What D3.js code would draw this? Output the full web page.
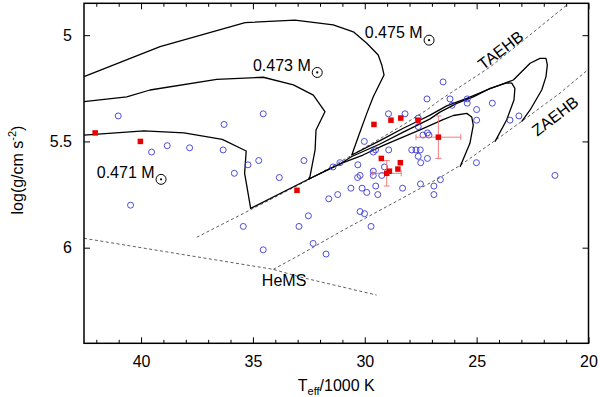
<!DOCTYPE html>
<html>
<head>
<meta charset="utf-8">
<script src="https://cdn.jsdelivr.net/npm/d3@7"></script>
<style>
  body { margin: 0; background: #fff; }
  svg { font-family: "Liberation Sans", Arial, Helvetica, sans-serif; }
</style>
</head>
<body>
<svg id="chart" width="600" height="397"></svg>
<script>
// ---- sdB sample (blue open circles) : Teff/1000 K, log g
const sdbTeff = [41.02, 36.29, 34.54, 39.53, 38.83, 37.83, 36.33, 35.22, 34.74, 35.83,
  33.82, 40.47, 35.43, 32.94, 34.54, 32.72, 30.02, 28.94, 28.20, 27.61,
  27.61, 27.40, 27.20, 27.13, 27.22, 26.50, 26.19, 26.10, 25.42, 25.42,
  25.00, 25.00, 24.30, 23.51, 23.11, 25.01, 21.50, 29.52, 29.62, 28.93,
  27.90, 27.71, 27.52, 27.61, 27.20, 27.50, 31.42, 31.11, 30.31, 29.12,
  29.62, 29.62, 29.24, 30.21, 30.32, 30.62, 30.12, 29.91, 29.51, 29.42,
  31.21, 31.61, 28.31, 27.51, 26.91, 26.91, 26.62, 32.52, 30.21, 30.01,
  29.72, 32.31, 31.73];
const sdbLogg = [5.38, 5.42, 5.37, 5.55, 5.52, 5.53, 5.54, 5.61, 5.59, 5.65,
  5.67, 5.80, 5.90, 5.90, 6.01, 5.59, 5.50, 5.37, 5.37, 5.39,
  5.43, 5.47, 5.46, 5.47, 5.30, 5.22, 5.30, 5.33, 5.30, 5.32,
  5.35, 5.40, 5.32, 5.40, 5.38, 5.60, 5.66, 5.54, 5.55, 5.54,
  5.54, 5.54, 5.54, 5.57, 5.58, 5.60, 5.62, 5.60, 5.61, 5.62,
  5.64, 5.66, 5.66, 5.66, 5.67, 5.72, 5.72, 5.74, 5.71, 5.75,
  5.75, 5.77, 5.72, 5.70, 5.71, 5.75, 5.68, 5.85, 5.83, 5.84,
  5.90, 5.98, 6.03];

// ---- highlighted stars (red squares) with error bars
const redTeff = [42.05, 40.03, 33.03, 29.59, 28.83, 28.39, 27.62, 26.71, 29.26, 28.41, 28.52, 28.90, 29.02];
const redLogg = [5.46, 5.50, 5.73, 5.42, 5.40, 5.39, 5.40, 5.48, 5.58, 5.60, 5.63, 5.64, 5.65];
const redTerr = [0, 0, 0, 0, 0, 0, 0, 1.0, 0, 0, 0, 0, 0.65];
const redGerr = [0, 0, 0, 0, 0, 0, 0, 0.10, 0, 0, 0, 0, 0.06];

// ---- evolutionary tracks [Teff, log g]
const track471 = [[42.55, 5.47], [39.87, 5.45], [38.08, 5.46], [36.37, 5.49], [35.30, 5.545],
  [35.37, 5.65], [35.10, 5.815], [32.52, 5.678], [31.11, 5.606], [30.08, 5.564],
  [29.19, 5.52], [28.43, 5.486], [27.53, 5.446], [26.50, 5.397], [26.04, 5.378],
  [25.44, 5.368], [25.22, 5.385], [25.15, 5.423], [25.30, 5.509], [25.74, 5.619]];
const track473 = [[42.55, 5.313], [40.64, 5.29], [39.60, 5.258], [36.62, 5.208], [34.54, 5.198],
  [33.19, 5.234], [32.30, 5.282], [31.78, 5.36], [32.18, 5.446], [32.22, 5.54],
  [32.45, 5.666], [32.52, 5.678], [31.11, 5.606], [30.58, 5.571], [29.32, 5.512],
  [28.28, 5.456], [27.08, 5.394], [26.64, 5.362], [25.89, 5.321], [25.15, 5.29],
  [24.40, 5.25], [23.66, 5.224], [23.43, 5.226], [23.29, 5.25], [23.33, 5.305],
  [23.66, 5.399], [24.18, 5.501]];
const track475 = [[42.55, 5.195], [39.15, 5.054], [35.35, 4.941], [33.12, 4.929], [31.41, 4.952],
  [30.51, 4.984], [29.91, 5.038], [29.40, 5.093], [29.24, 5.14], [29.14, 5.187],
  [29.62, 5.29], [29.91, 5.368], [30.29, 5.478], [30.58, 5.564], [29.32, 5.496],
  [28.28, 5.438], [27.61, 5.404], [27.08, 5.376], [26.34, 5.333], [25.44, 5.297],
  [24.55, 5.258], [23.36, 5.211], [22.61, 5.132], [22.17, 5.109], [21.90, 5.109],
  [21.84, 5.14], [21.90, 5.195], [22.09, 5.258], [22.61, 5.352], [22.99, 5.407]];

// ---- reference lines (dashed)
const taehb = [[37.51, 5.951], [35.13, 5.823], [32.54, 5.682], [30.57, 5.564], [28.43, 5.432],
  [27.23, 5.352], [26.64, 5.305], [24.40, 5.15], [23.06, 5.037], [20.97, 4.858]];
const zaehb = [[34.09, 6.102], [32.90, 6.034], [31.11, 5.926], [28.43, 5.773], [26.64, 5.67],
  [25.74, 5.613], [24.18, 5.496], [22.99, 5.406], [21.27, 5.272], [20.05, 5.165]];
const hems = [[42.55, 5.956], [34.09, 6.102], [32.90, 6.138], [29.47, 6.223]];

const xMajor = [40, 35, 30, 25, 20];
const yMajor = [5, 5.5, 6];

// -----------------------------
//  SCALES
// -----------------------------
const svg = d3.select("#chart");
const mLeft = 84, mRight = 588.5, mTop = 3.3, mBottom = 343.3;
const x = d3.scaleLinear().domain([42.55, 20]).range([mLeft, mRight]);
const y = d3.scaleLinear().domain([4.85, 6.45]).range([mTop, mBottom]);

const fontSize = 16;

// -----------------------------
//  LINES
// -----------------------------
const line = d3.line().x(d => x(d[0])).y(d => y(d[1]));
const plot = svg.append("g");

[taehb, zaehb, hems].forEach(d => {
  plot.append("path").attr("d", line(d)).attr("fill", "none")
    .attr("stroke", "#333").attr("stroke-width", 0.8).attr("stroke-dasharray", "3,2.5");
});
[track471, track473, track475].forEach(d => {
  plot.append("path").attr("d", line(d)).attr("fill", "none")
    .attr("stroke", "#000").attr("stroke-width", 1.3).attr("stroke-linejoin", "round");
});

// -----------------------------
//  POINTS
// -----------------------------
plot.append("g").selectAll("circle").data(sdbTeff).enter().append("circle")
  .attr("cx", d => x(d)).attr("cy", (d, i) => y(sdbLogg[i])).attr("r", 3)
  .attr("fill", "none").attr("stroke", "#3a3ad6").attr("stroke-width", 0.9);

const errG = plot.append("g").attr("stroke", "#f07070").attr("stroke-width", 0.9);
redTeff.forEach((t, i) => {
  if (!redTerr[i]) return;
  const cx = x(t), cy = y(redLogg[i]);
  const x0 = x(t + redTerr[i]), x1 = x(t - redTerr[i]);
  const y0 = y(redLogg[i] - redGerr[i]), y1 = y(redLogg[i] + redGerr[i]);
  errG.append("line").attr("x1", x0).attr("x2", x1).attr("y1", cy).attr("y2", cy);
  errG.append("line").attr("x1", cx).attr("x2", cx).attr("y1", y0).attr("y2", y1);
  errG.append("line").attr("x1", x0).attr("x2", x0).attr("y1", cy - 3).attr("y2", cy + 3);
  errG.append("line").attr("x1", x1).attr("x2", x1).attr("y1", cy - 3).attr("y2", cy + 3);
  errG.append("line").attr("x1", cx - 3).attr("x2", cx + 3).attr("y1", y0).attr("y2", y0);
  errG.append("line").attr("x1", cx - 3).attr("x2", cx + 3).attr("y1", y1).attr("y2", y1);
});

const sq = 5.5;
plot.append("g").selectAll("rect").data(redTeff).enter().append("rect")
  .attr("x", d => x(d) - sq / 2).attr("y", (d, i) => y(redLogg[i]) - sq / 2)
  .attr("width", sq).attr("height", sq).attr("fill", "#e80000");

// -----------------------------
//  AXES (ticks inside, mirrored)
// -----------------------------
function styleAxis(g) {
  g.select(".domain").remove();
  g.selectAll("line").attr("stroke", "#000").attr("stroke-width", 1);
  g.selectAll("text").attr("font-size", fontSize).attr("fill", "#000")
    .attr("font-family", "Liberation Sans, Arial, sans-serif");
}
const xMinor = d3.range(21, 43).filter(v => v % 5 !== 0);

svg.append("g").attr("transform", `translate(0,${mBottom})`)
  .call(d3.axisBottom(x).tickValues(xMajor).tickSize(-6).tickPadding(12.6).tickFormat(d3.format("d")))
  .call(styleAxis);
svg.append("g").attr("transform", `translate(0,${mBottom})`)
  .call(d3.axisBottom(x).tickValues(xMinor).tickSize(-3.5).tickFormat(""))
  .call(styleAxis);
svg.append("g").attr("transform", `translate(0,${mTop})`)
  .call(d3.axisTop(x).tickValues(xMajor).tickSize(-6).tickFormat(""))
  .call(styleAxis);
svg.append("g").attr("transform", `translate(0,${mTop})`)
  .call(d3.axisTop(x).tickValues(xMinor).tickSize(-3.5).tickFormat(""))
  .call(styleAxis);
svg.append("g").attr("transform", `translate(${mLeft},0)`)
  .call(d3.axisLeft(y).tickValues(yMajor).tickSize(-6).tickPadding(12).tickFormat(d => d))
  .call(styleAxis);
svg.append("g").attr("transform", `translate(${mRight},0)`)
  .call(d3.axisRight(y).tickValues(yMajor).tickSize(-6).tickFormat(""))
  .call(styleAxis);

svg.append("rect").attr("x", mLeft).attr("y", mTop)
  .attr("width", mRight - mLeft).attr("height", mBottom - mTop)
  .attr("fill", "none").attr("stroke", "#000").attr("stroke-width", 1.5);

// -----------------------------
//  LABELS
// -----------------------------
function massLabel(t, g, txt) {
  const el = svg.append("text").attr("x", x(t)).attr("y", y(g))
    .attr("font-size", fontSize).text(txt);
  const w = el.node().getComputedTextLength();
  const cx = x(t) + w + 6.5, cy = y(g) + 1.8;
  svg.append("circle").attr("cx", cx).attr("cy", cy).attr("r", 5)
    .attr("fill", "none").attr("stroke", "#000").attr("stroke-width", 1);
  svg.append("circle").attr("cx", cx).attr("cy", cy).attr("r", 1.1).attr("fill", "#000");
}
massLabel(30.0, 5.015, "0.475 M");
massLabel(35.0, 5.167, "0.473 M");
massLabel(41.98, 5.67, "0.471 M");

svg.append("text").attr("x", x(34.6)).attr("y", y(6.18)).attr("font-size", fontSize).text("HeMS");

svg.append("text").attr("transform", "translate(500.5,50) rotate(-37.5)")
  .attr("text-anchor", "middle").attr("dy", "0.36em").attr("font-size", fontSize).text("TAEHB");
svg.append("text").attr("transform", "translate(555,116) rotate(-37.5)")
  .attr("text-anchor", "middle").attr("dy", "0.36em").attr("font-size", fontSize).text("ZAEHB");

// axis titles
const xt = svg.append("text").attr("x", (mLeft + mRight) / 2).attr("y", 391)
  .attr("text-anchor", "middle").attr("font-size", fontSize);
xt.append("tspan").text("T");
xt.append("tspan").attr("font-size", 11).attr("dy", 4).text("eff");
xt.append("tspan").attr("dy", -4).text("/1000 K");

const yt = svg.append("text").attr("transform", "translate(23,170) rotate(-90)")
  .attr("text-anchor", "middle").attr("font-size", fontSize);
yt.append("tspan").text("log(g/cm s");
yt.append("tspan").attr("font-size", 11).attr("dy", -7).text("-2");
yt.append("tspan").attr("dy", 7).text(")");
</script>
</body>
</html>
